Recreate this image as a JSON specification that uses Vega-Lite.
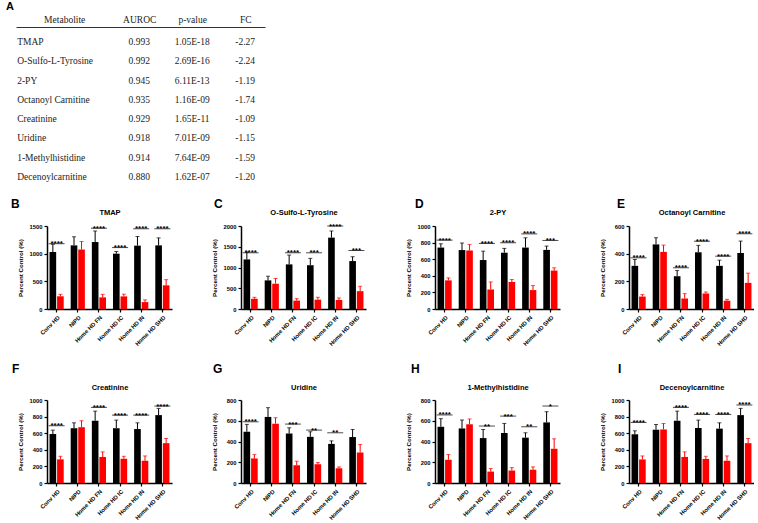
{
  "$schema": "https://vega.github.io/schema/vega-lite/v6.json",
  "padding": {"left": 6, "top": 1, "right": 0, "bottom": 0},
  "background": "white",
  "config": {
    "view": {"stroke": null},
    "font": "Liberation Sans",
    "axis": {"domainColor": "#000", "domainWidth": 1.5, "tickColor": "#000", "tickWidth": 1.2, "tickSize": 3, "labelFont": "Liberation Sans", "labelFontWeight": "bold", "labelFontSize": 5.8, "labelColor": "#000", "titleFont": "Liberation Sans", "titleFontWeight": "bold", "titleFontSize": 6.2, "titleColor": "#000", "grid": false},
    "axisY": {"minExtent": 18, "maxExtent": 18, "titlePadding": 5.5, "labelPadding": 2, "format": "d"},
    "axisTop": {"labels": false, "ticks": false, "domain": false, "titleFontSize": 7.5, "titlePadding": 10, "minExtent": 0, "maxExtent": 0},
    "title": {"font": "Liberation Sans", "fontWeight": "bold", "color": "#000"}
  },
  "datasets": {
    "table": [
      {"Metabolite": "TMAP", "AUROC": "0.993", "pvalue": "1.05E-18", "FC": "-2.27"},
      {"Metabolite": "O-Sulfo-L-Tyrosine", "AUROC": "0.992", "pvalue": "2.69E-16", "FC": "-2.24"},
      {"Metabolite": "2-PY", "AUROC": "0.945", "pvalue": "6.11E-13", "FC": "-1.19"},
      {"Metabolite": "Octanoyl  Carnitine", "AUROC": "0.935", "pvalue": "1.16E-09", "FC": "-1.74"},
      {"Metabolite": "Creatinine", "AUROC": "0.929", "pvalue": "1.65E-11", "FC": "-1.09"},
      {"Metabolite": "Uridine", "AUROC": "0.918", "pvalue": "7.01E-09", "FC": "-1.15"},
      {"Metabolite": "1-Methylhistidine", "AUROC": "0.914", "pvalue": "7.64E-09", "FC": "-1.59"},
      {"Metabolite": "Decenoylcarnitine", "AUROC": "0.880", "pvalue": "1.62E-07", "FC": "-1.20"}
    ],
    "bars": [
      {"m": "TMAP", "g": "Conv HD", "s": "Pre", "v": 1030, "hi": 1170},
      {"m": "TMAP", "g": "Conv HD", "s": "Post", "v": 230, "hi": 265},
      {"m": "TMAP", "g": "NIPD", "s": "Pre", "v": 1150, "hi": 1305},
      {"m": "TMAP", "g": "NIPD", "s": "Post", "v": 1075, "hi": 1220},
      {"m": "TMAP", "g": "Home HD FN", "s": "Pre", "v": 1210, "hi": 1410},
      {"m": "TMAP", "g": "Home HD FN", "s": "Post", "v": 210, "hi": 265},
      {"m": "TMAP", "g": "Home HD IC", "s": "Pre", "v": 1000, "hi": 1040},
      {"m": "TMAP", "g": "Home HD IC", "s": "Post", "v": 228, "hi": 268},
      {"m": "TMAP", "g": "Home HD IN", "s": "Pre", "v": 1145, "hi": 1310},
      {"m": "TMAP", "g": "Home HD IN", "s": "Post", "v": 125, "hi": 165},
      {"m": "TMAP", "g": "Home HD SHD", "s": "Pre", "v": 1150, "hi": 1285},
      {"m": "TMAP", "g": "Home HD SHD", "s": "Post", "v": 428, "hi": 530},
      {"m": "O-Sulfo-L-Tyrosine", "g": "Conv HD", "s": "Pre", "v": 1195, "hi": 1370},
      {"m": "O-Sulfo-L-Tyrosine", "g": "Conv HD", "s": "Post", "v": 245, "hi": 282},
      {"m": "O-Sulfo-L-Tyrosine", "g": "NIPD", "s": "Pre", "v": 690, "hi": 790},
      {"m": "O-Sulfo-L-Tyrosine", "g": "NIPD", "s": "Post", "v": 610, "hi": 735},
      {"m": "O-Sulfo-L-Tyrosine", "g": "Home HD FN", "s": "Pre", "v": 1075, "hi": 1300},
      {"m": "O-Sulfo-L-Tyrosine", "g": "Home HD FN", "s": "Post", "v": 202, "hi": 250},
      {"m": "O-Sulfo-L-Tyrosine", "g": "Home HD IC", "s": "Pre", "v": 1055, "hi": 1220},
      {"m": "O-Sulfo-L-Tyrosine", "g": "Home HD IC", "s": "Post", "v": 225, "hi": 282},
      {"m": "O-Sulfo-L-Tyrosine", "g": "Home HD IN", "s": "Pre", "v": 1720, "hi": 1880},
      {"m": "O-Sulfo-L-Tyrosine", "g": "Home HD IN", "s": "Post", "v": 218, "hi": 266},
      {"m": "O-Sulfo-L-Tyrosine", "g": "Home HD SHD", "s": "Pre", "v": 1155, "hi": 1260},
      {"m": "O-Sulfo-L-Tyrosine", "g": "Home HD SHD", "s": "Post", "v": 430, "hi": 548},
      {"m": "2-PY", "g": "Conv HD", "s": "Pre", "v": 740, "hi": 786},
      {"m": "2-PY", "g": "Conv HD", "s": "Post", "v": 345, "hi": 375},
      {"m": "2-PY", "g": "NIPD", "s": "Pre", "v": 710, "hi": 795},
      {"m": "2-PY", "g": "NIPD", "s": "Post", "v": 705, "hi": 778},
      {"m": "2-PY", "g": "Home HD FN", "s": "Pre", "v": 590, "hi": 697},
      {"m": "2-PY", "g": "Home HD FN", "s": "Post", "v": 235, "hi": 326},
      {"m": "2-PY", "g": "Home HD IC", "s": "Pre", "v": 678, "hi": 730},
      {"m": "2-PY", "g": "Home HD IC", "s": "Post", "v": 325, "hi": 355},
      {"m": "2-PY", "g": "Home HD IN", "s": "Pre", "v": 740, "hi": 858},
      {"m": "2-PY", "g": "Home HD IN", "s": "Post", "v": 228, "hi": 282},
      {"m": "2-PY", "g": "Home HD SHD", "s": "Pre", "v": 712, "hi": 758},
      {"m": "2-PY", "g": "Home HD SHD", "s": "Post", "v": 463, "hi": 496},
      {"m": "Octanoyl Carnitine", "g": "Conv HD", "s": "Pre", "v": 312, "hi": 358},
      {"m": "Octanoyl Carnitine", "g": "Conv HD", "s": "Post", "v": 90, "hi": 104},
      {"m": "Octanoyl Carnitine", "g": "NIPD", "s": "Pre", "v": 467, "hi": 515},
      {"m": "Octanoyl Carnitine", "g": "NIPD", "s": "Post", "v": 413, "hi": 462},
      {"m": "Octanoyl Carnitine", "g": "Home HD FN", "s": "Pre", "v": 237, "hi": 278},
      {"m": "Octanoyl Carnitine", "g": "Home HD FN", "s": "Post", "v": 76, "hi": 111},
      {"m": "Octanoyl Carnitine", "g": "Home HD IC", "s": "Pre", "v": 410, "hi": 460},
      {"m": "Octanoyl Carnitine", "g": "Home HD IC", "s": "Post", "v": 112, "hi": 123},
      {"m": "Octanoyl Carnitine", "g": "Home HD IN", "s": "Pre", "v": 312, "hi": 353},
      {"m": "Octanoyl Carnitine", "g": "Home HD IN", "s": "Post", "v": 60, "hi": 70},
      {"m": "Octanoyl Carnitine", "g": "Home HD SHD", "s": "Pre", "v": 405, "hi": 491},
      {"m": "Octanoyl Carnitine", "g": "Home HD SHD", "s": "Post", "v": 189, "hi": 259},
      {"m": "Creatinine", "g": "Conv HD", "s": "Pre", "v": 590, "hi": 637},
      {"m": "Creatinine", "g": "Conv HD", "s": "Post", "v": 285, "hi": 322},
      {"m": "Creatinine", "g": "NIPD", "s": "Pre", "v": 660, "hi": 725},
      {"m": "Creatinine", "g": "NIPD", "s": "Post", "v": 672, "hi": 750},
      {"m": "Creatinine", "g": "Home HD FN", "s": "Pre", "v": 750, "hi": 866},
      {"m": "Creatinine", "g": "Home HD FN", "s": "Post", "v": 314, "hi": 375},
      {"m": "Creatinine", "g": "Home HD IC", "s": "Pre", "v": 660, "hi": 758},
      {"m": "Creatinine", "g": "Home HD IC", "s": "Post", "v": 292, "hi": 322},
      {"m": "Creatinine", "g": "Home HD IN", "s": "Pre", "v": 650, "hi": 725},
      {"m": "Creatinine", "g": "Home HD IN", "s": "Post", "v": 268, "hi": 326},
      {"m": "Creatinine", "g": "Home HD SHD", "s": "Pre", "v": 818, "hi": 899},
      {"m": "Creatinine", "g": "Home HD SHD", "s": "Post", "v": 480, "hi": 536},
      {"m": "Uridine", "g": "Conv HD", "s": "Pre", "v": 494, "hi": 565},
      {"m": "Uridine", "g": "Conv HD", "s": "Post", "v": 237, "hi": 274},
      {"m": "Uridine", "g": "NIPD", "s": "Pre", "v": 637, "hi": 726},
      {"m": "Uridine", "g": "NIPD", "s": "Post", "v": 572, "hi": 629},
      {"m": "Uridine", "g": "Home HD FN", "s": "Pre", "v": 477, "hi": 532},
      {"m": "Uridine", "g": "Home HD FN", "s": "Post", "v": 171, "hi": 210},
      {"m": "Uridine", "g": "Home HD IC", "s": "Pre", "v": 445, "hi": 494},
      {"m": "Uridine", "g": "Home HD IC", "s": "Post", "v": 181, "hi": 197},
      {"m": "Uridine", "g": "Home HD IN", "s": "Pre", "v": 377, "hi": 406},
      {"m": "Uridine", "g": "Home HD IN", "s": "Post", "v": 142, "hi": 155},
      {"m": "Uridine", "g": "Home HD SHD", "s": "Pre", "v": 443, "hi": 516},
      {"m": "Uridine", "g": "Home HD SHD", "s": "Post", "v": 294, "hi": 371},
      {"m": "1-Methylhistidine", "g": "Conv HD", "s": "Pre", "v": 542, "hi": 620},
      {"m": "1-Methylhistidine", "g": "Conv HD", "s": "Post", "v": 224, "hi": 274},
      {"m": "1-Methylhistidine", "g": "NIPD", "s": "Pre", "v": 526, "hi": 607},
      {"m": "1-Methylhistidine", "g": "NIPD", "s": "Post", "v": 566, "hi": 617},
      {"m": "1-Methylhistidine", "g": "Home HD FN", "s": "Pre", "v": 433, "hi": 516},
      {"m": "1-Methylhistidine", "g": "Home HD FN", "s": "Post", "v": 110, "hi": 139},
      {"m": "1-Methylhistidine", "g": "Home HD IC", "s": "Pre", "v": 482, "hi": 574},
      {"m": "1-Methylhistidine", "g": "Home HD IC", "s": "Post", "v": 120, "hi": 148},
      {"m": "1-Methylhistidine", "g": "Home HD IN", "s": "Pre", "v": 437, "hi": 484},
      {"m": "1-Methylhistidine", "g": "Home HD IN", "s": "Post", "v": 128, "hi": 155},
      {"m": "1-Methylhistidine", "g": "Home HD SHD", "s": "Pre", "v": 584, "hi": 687},
      {"m": "1-Methylhistidine", "g": "Home HD SHD", "s": "Post", "v": 330, "hi": 426},
      {"m": "Decenoylcarnitine", "g": "Conv HD", "s": "Pre", "v": 587, "hi": 629},
      {"m": "Decenoylcarnitine", "g": "Conv HD", "s": "Post", "v": 284, "hi": 326},
      {"m": "Decenoylcarnitine", "g": "NIPD", "s": "Pre", "v": 642, "hi": 705},
      {"m": "Decenoylcarnitine", "g": "NIPD", "s": "Post", "v": 645, "hi": 717},
      {"m": "Decenoylcarnitine", "g": "Home HD FN", "s": "Pre", "v": 750, "hi": 866},
      {"m": "Decenoylcarnitine", "g": "Home HD FN", "s": "Post", "v": 314, "hi": 375},
      {"m": "Decenoylcarnitine", "g": "Home HD IC", "s": "Pre", "v": 663, "hi": 758},
      {"m": "Decenoylcarnitine", "g": "Home HD IC", "s": "Post", "v": 290, "hi": 322},
      {"m": "Decenoylcarnitine", "g": "Home HD IN", "s": "Pre", "v": 655, "hi": 725},
      {"m": "Decenoylcarnitine", "g": "Home HD IN", "s": "Post", "v": 268, "hi": 326},
      {"m": "Decenoylcarnitine", "g": "Home HD SHD", "s": "Pre", "v": 818, "hi": 899},
      {"m": "Decenoylcarnitine", "g": "Home HD SHD", "s": "Post", "v": 480, "hi": 536}
    ],
    "sig": [
      {"m": "TMAP", "g": "Conv HD", "v": 1180, "t": "****"},
      {"m": "TMAP", "g": "Home HD FN", "v": 1460, "t": "****"},
      {"m": "TMAP", "g": "Home HD IC", "v": 1110, "t": "****"},
      {"m": "TMAP", "g": "Home HD IN", "v": 1450, "t": "****"},
      {"m": "TMAP", "g": "Home HD SHD", "v": 1450, "t": "****"},
      {"m": "O-Sulfo-L-Tyrosine", "g": "Conv HD", "v": 1355, "t": "****"},
      {"m": "O-Sulfo-L-Tyrosine", "g": "Home HD FN", "v": 1355, "t": "****"},
      {"m": "O-Sulfo-L-Tyrosine", "g": "Home HD IC", "v": 1355, "t": "***"},
      {"m": "O-Sulfo-L-Tyrosine", "g": "Home HD IN", "v": 2000, "t": "****"},
      {"m": "O-Sulfo-L-Tyrosine", "g": "Home HD SHD", "v": 1410, "t": "***"},
      {"m": "2-PY", "g": "Conv HD", "v": 830, "t": "****"},
      {"m": "2-PY", "g": "Home HD FN", "v": 790, "t": "****"},
      {"m": "2-PY", "g": "Home HD IC", "v": 798, "t": "****"},
      {"m": "2-PY", "g": "Home HD IN", "v": 905, "t": "****"},
      {"m": "2-PY", "g": "Home HD SHD", "v": 826, "t": "***"},
      {"m": "Octanoyl Carnitine", "g": "Conv HD", "v": 370, "t": "****"},
      {"m": "Octanoyl Carnitine", "g": "Home HD FN", "v": 298, "t": "****"},
      {"m": "Octanoyl Carnitine", "g": "Home HD IC", "v": 490, "t": "****"},
      {"m": "Octanoyl Carnitine", "g": "Home HD IN", "v": 382, "t": "****"},
      {"m": "Octanoyl Carnitine", "g": "Home HD SHD", "v": 544, "t": "****"},
      {"m": "Creatinine", "g": "Conv HD", "v": 690, "t": "****"},
      {"m": "Creatinine", "g": "Home HD FN", "v": 911, "t": "****"},
      {"m": "Creatinine", "g": "Home HD IC", "v": 818, "t": "****"},
      {"m": "Creatinine", "g": "Home HD IN", "v": 818, "t": "****"},
      {"m": "Creatinine", "g": "Home HD SHD", "v": 927, "t": "****"},
      {"m": "Uridine", "g": "Conv HD", "v": 590, "t": "****"},
      {"m": "Uridine", "g": "Home HD FN", "v": 568, "t": "***"},
      {"m": "Uridine", "g": "Home HD IC", "v": 510, "t": "**"},
      {"m": "Uridine", "g": "Home HD IN", "v": 484, "t": "**"},
      {"m": "1-Methylhistidine", "g": "Conv HD", "v": 656, "t": "****"},
      {"m": "1-Methylhistidine", "g": "Home HD FN", "v": 549, "t": "**"},
      {"m": "1-Methylhistidine", "g": "Home HD IC", "v": 645, "t": "***"},
      {"m": "1-Methylhistidine", "g": "Home HD IN", "v": 542, "t": "**"},
      {"m": "1-Methylhistidine", "g": "Home HD SHD", "v": 742, "t": "*"},
      {"m": "Decenoylcarnitine", "g": "Conv HD", "v": 730, "t": "****"},
      {"m": "Decenoylcarnitine", "g": "Home HD FN", "v": 911, "t": "****"},
      {"m": "Decenoylcarnitine", "g": "Home HD IC", "v": 826, "t": "****"},
      {"m": "Decenoylcarnitine", "g": "Home HD IN", "v": 826, "t": "****"},
      {"m": "Decenoylcarnitine", "g": "Home HD SHD", "v": 940, "t": "****"}
    ]
  },
  "spacing": 16,
  "vconcat": [
    {
      "title": {"text": "A", "anchor": "start", "frame": "group", "fontSize": 11, "dx": -41, "offset": 2},
      "width": 218, "height": 150,
      "data": {"name": "table"},
      "encoding": {
        "y": {"field": "Metabolite", "type": "nominal", "scale": {"type": "point", "padding": 0.777, "range": [0, 165], "domain": ["TMAP", "O-Sulfo-L-Tyrosine", "2-PY", "Octanoyl  Carnitine", "Creatinine", "Uridine", "1-Methylhistidine", "Decenoylcarnitine"]}, "axis": null}
      },
      "layer": [
        {"mark": {"type": "text", "align": "left", "dx": -69, "font": "Liberation Serif", "fontSize": 9.5, "color": "#222"},
         "encoding": {"x": {"datum": "Metabolite", "type": "nominal", "scale": {"type": "point", "domain": ["Metabolite", "AUROC", "p-value", "FC"], "range": [-31, 218], "padding": 0.849, "align": 0.78},
           "axis": {"orient": "top", "title": null, "labels": true, "domain": true, "ticks": false, "minExtent": 10, "maxExtent": 40, "labelAngle": 0, "labelFont": "Liberation Serif", "labelFontSize": 9.5, "labelFontWeight": "normal", "labelColor": "#222", "domainColor": "#333", "domainWidth": 1.2, "labelPadding": 3,
             "labelOffset": {"condition": {"test": "datum.value === 'Metabolite'", "value": -22}, "value": 0}}},
           "text": {"field": "Metabolite"}}},
        {"mark": {"type": "text", "align": "center", "font": "Liberation Serif", "fontSize": 9.5, "color": "#222"},
         "encoding": {"x": {"datum": "AUROC", "type": "nominal"}, "text": {"field": "AUROC"}}},
        {"mark": {"type": "text", "align": "center", "font": "Liberation Serif", "fontSize": 9.5, "color": "#222"},
         "encoding": {"x": {"datum": "p-value", "type": "nominal"}, "text": {"field": "pvalue"}}},
        {"mark": {"type": "text", "align": "center", "font": "Liberation Serif", "fontSize": 9.5, "color": "#222"},
         "encoding": {"x": {"datum": "FC", "type": "nominal"}, "text": {"field": "FC"}}}
      ]
    },
    {
      "bounds": "flush",
      "spacing": 69,
      "hconcat": [
        {"title": {"text": "B", "anchor": "start", "frame": "group", "fontSize": 12, "dx": -36, "offset": -3},
         "width": 125, "height": 83, "data": {"name": "bars"}, "resolve": {"axis": {"x": "independent"}},
         "encoding": {"x": {"field": "g", "type": "nominal", "scale": {"domain": ["Conv HD", "NIPD", "Home HD FN", "Home HD IC", "Home HD IN", "Home HD SHD"], "paddingInner": 0.33, "paddingOuter": 0.12}, "axis": null},
           "y": {"field": "v", "type": "quantitative", "scale": {"domain": [0, 1500], "nice": false}, "axis": {"values": [0, 500, 1000, 1500], "title": "Percent Control (%)"}}},
         "layer": [
           {"transform": [{"filter": "datum.m === 'TMAP'"}], "mark": {"type": "bar"}, "encoding": {"x": {"field": "g", "type": "nominal", "scale": {"domain": ["Conv HD", "NIPD", "Home HD FN", "Home HD IC", "Home HD IN", "Home HD SHD"], "paddingInner": 0.33, "paddingOuter": 0.12}, "axis": {"orient": "bottom", "title": null, "labelAngle": -45}}, "xOffset": {"field": "s", "type": "nominal", "scale": {"domain": ["Pre", "Post"], "paddingInner": 0.12}}, "color": {"field": "s", "type": "nominal", "scale": {"domain": ["Pre", "Post"], "range": ["#000000", "#ff0000"]}, "legend": null}}},
           {"transform": [{"filter": "datum.m === 'TMAP'"}], "mark": {"type": "rule", "strokeWidth": 1}, "encoding": {"x": {"field": "g", "type": "nominal", "scale": {"domain": ["Conv HD", "NIPD", "Home HD FN", "Home HD IC", "Home HD IN", "Home HD SHD"], "paddingInner": 0.33, "paddingOuter": 0.12}, "axis": {"orient": "top", "title": "TMAP"}}, "xOffset": {"field": "s", "type": "nominal", "scale": {"domain": ["Pre", "Post"], "paddingInner": 0.12}}, "color": {"field": "s", "type": "nominal", "legend": null}, "y2": {"field": "hi"}}},
           {"transform": [{"filter": "datum.m === 'TMAP'"}], "mark": {"type": "tick", "thickness": 1, "size": 4}, "encoding": {"xOffset": {"field": "s", "type": "nominal", "scale": {"domain": ["Pre", "Post"], "paddingInner": 0.12}}, "color": {"field": "s", "type": "nominal", "legend": null}, "y": {"field": "hi", "type": "quantitative", "scale": {"domain": [0, 1500], "nice": false}}}},
           {"data": {"name": "sig"}, "transform": [{"filter": "datum.m === 'TMAP'"}], "mark": {"type": "tick", "thickness": 1, "size": 16, "color": "#000"}},
           {"data": {"name": "sig"}, "transform": [{"filter": "datum.m === 'TMAP'"}], "mark": {"type": "text", "fontSize": 8, "fontWeight": "bold", "baseline": "alphabetic", "dy": 2.5, "color": "#000"}, "encoding": {"text": {"field": "t"}}}
         ]},
        {"title": {"text": "C", "anchor": "start", "frame": "group", "fontSize": 12, "dx": -27, "offset": -3},
         "width": 125, "height": 83, "data": {"name": "bars"}, "resolve": {"axis": {"x": "independent"}},
         "encoding": {"x": {"field": "g", "type": "nominal", "scale": {"domain": ["Conv HD", "NIPD", "Home HD FN", "Home HD IC", "Home HD IN", "Home HD SHD"], "paddingInner": 0.33, "paddingOuter": 0.12}, "axis": null},
           "y": {"field": "v", "type": "quantitative", "scale": {"domain": [0, 2000], "nice": false}, "axis": {"values": [0, 500, 1000, 1500, 2000], "title": "Percent Control (%)"}}},
         "layer": [
           {"transform": [{"filter": "datum.m === 'O-Sulfo-L-Tyrosine'"}], "mark": {"type": "bar"}, "encoding": {"x": {"field": "g", "type": "nominal", "scale": {"domain": ["Conv HD", "NIPD", "Home HD FN", "Home HD IC", "Home HD IN", "Home HD SHD"], "paddingInner": 0.33, "paddingOuter": 0.12}, "axis": {"orient": "bottom", "title": null, "labelAngle": -45}}, "xOffset": {"field": "s", "type": "nominal", "scale": {"domain": ["Pre", "Post"], "paddingInner": 0.12}}, "color": {"field": "s", "type": "nominal", "scale": {"domain": ["Pre", "Post"], "range": ["#000000", "#ff0000"]}, "legend": null}}},
           {"transform": [{"filter": "datum.m === 'O-Sulfo-L-Tyrosine'"}], "mark": {"type": "rule", "strokeWidth": 1}, "encoding": {"x": {"field": "g", "type": "nominal", "scale": {"domain": ["Conv HD", "NIPD", "Home HD FN", "Home HD IC", "Home HD IN", "Home HD SHD"], "paddingInner": 0.33, "paddingOuter": 0.12}, "axis": {"orient": "top", "title": "O-Sulfo-L-Tyrosine"}}, "xOffset": {"field": "s", "type": "nominal", "scale": {"domain": ["Pre", "Post"], "paddingInner": 0.12}}, "color": {"field": "s", "type": "nominal", "legend": null}, "y2": {"field": "hi"}}},
           {"transform": [{"filter": "datum.m === 'O-Sulfo-L-Tyrosine'"}], "mark": {"type": "tick", "thickness": 1, "size": 4}, "encoding": {"xOffset": {"field": "s", "type": "nominal", "scale": {"domain": ["Pre", "Post"], "paddingInner": 0.12}}, "color": {"field": "s", "type": "nominal", "legend": null}, "y": {"field": "hi", "type": "quantitative", "scale": {"domain": [0, 2000], "nice": false}}}},
           {"data": {"name": "sig"}, "transform": [{"filter": "datum.m === 'O-Sulfo-L-Tyrosine'"}], "mark": {"type": "tick", "thickness": 1, "size": 16, "color": "#000"}},
           {"data": {"name": "sig"}, "transform": [{"filter": "datum.m === 'O-Sulfo-L-Tyrosine'"}], "mark": {"type": "text", "fontSize": 8, "fontWeight": "bold", "baseline": "alphabetic", "dy": 2.5, "color": "#000"}, "encoding": {"text": {"field": "t"}}}
         ]},
        {"title": {"text": "D", "anchor": "start", "frame": "group", "fontSize": 12, "dx": -20, "offset": -3},
         "width": 125, "height": 83, "data": {"name": "bars"}, "resolve": {"axis": {"x": "independent"}},
         "encoding": {"x": {"field": "g", "type": "nominal", "scale": {"domain": ["Conv HD", "NIPD", "Home HD FN", "Home HD IC", "Home HD IN", "Home HD SHD"], "paddingInner": 0.33, "paddingOuter": 0.12}, "axis": null},
           "y": {"field": "v", "type": "quantitative", "scale": {"domain": [0, 1000], "nice": false}, "axis": {"values": [0, 200, 400, 600, 800, 1000], "title": "Percent Control (%)"}}},
         "layer": [
           {"transform": [{"filter": "datum.m === '2-PY'"}], "mark": {"type": "bar"}, "encoding": {"x": {"field": "g", "type": "nominal", "scale": {"domain": ["Conv HD", "NIPD", "Home HD FN", "Home HD IC", "Home HD IN", "Home HD SHD"], "paddingInner": 0.33, "paddingOuter": 0.12}, "axis": {"orient": "bottom", "title": null, "labelAngle": -45}}, "xOffset": {"field": "s", "type": "nominal", "scale": {"domain": ["Pre", "Post"], "paddingInner": 0.12}}, "color": {"field": "s", "type": "nominal", "scale": {"domain": ["Pre", "Post"], "range": ["#000000", "#ff0000"]}, "legend": null}}},
           {"transform": [{"filter": "datum.m === '2-PY'"}], "mark": {"type": "rule", "strokeWidth": 1}, "encoding": {"x": {"field": "g", "type": "nominal", "scale": {"domain": ["Conv HD", "NIPD", "Home HD FN", "Home HD IC", "Home HD IN", "Home HD SHD"], "paddingInner": 0.33, "paddingOuter": 0.12}, "axis": {"orient": "top", "title": "2-PY"}}, "xOffset": {"field": "s", "type": "nominal", "scale": {"domain": ["Pre", "Post"], "paddingInner": 0.12}}, "color": {"field": "s", "type": "nominal", "legend": null}, "y2": {"field": "hi"}}},
           {"transform": [{"filter": "datum.m === '2-PY'"}], "mark": {"type": "tick", "thickness": 1, "size": 4}, "encoding": {"xOffset": {"field": "s", "type": "nominal", "scale": {"domain": ["Pre", "Post"], "paddingInner": 0.12}}, "color": {"field": "s", "type": "nominal", "legend": null}, "y": {"field": "hi", "type": "quantitative", "scale": {"domain": [0, 1000], "nice": false}}}},
           {"data": {"name": "sig"}, "transform": [{"filter": "datum.m === '2-PY'"}], "mark": {"type": "tick", "thickness": 1, "size": 16, "color": "#000"}},
           {"data": {"name": "sig"}, "transform": [{"filter": "datum.m === '2-PY'"}], "mark": {"type": "text", "fontSize": 8, "fontWeight": "bold", "baseline": "alphabetic", "dy": 2.5, "color": "#000"}, "encoding": {"text": {"field": "t"}}}
         ]},
        {"title": {"text": "E", "anchor": "start", "frame": "group", "fontSize": 12, "dx": -12, "offset": -3},
         "width": 125, "height": 83, "data": {"name": "bars"}, "resolve": {"axis": {"x": "independent"}},
         "encoding": {"x": {"field": "g", "type": "nominal", "scale": {"domain": ["Conv HD", "NIPD", "Home HD FN", "Home HD IC", "Home HD IN", "Home HD SHD"], "paddingInner": 0.33, "paddingOuter": 0.12}, "axis": null},
           "y": {"field": "v", "type": "quantitative", "scale": {"domain": [0, 600], "nice": false}, "axis": {"values": [0, 200, 400, 600], "title": "Percent Control (%)"}}},
         "layer": [
           {"transform": [{"filter": "datum.m === 'Octanoyl Carnitine'"}], "mark": {"type": "bar"}, "encoding": {"x": {"field": "g", "type": "nominal", "scale": {"domain": ["Conv HD", "NIPD", "Home HD FN", "Home HD IC", "Home HD IN", "Home HD SHD"], "paddingInner": 0.33, "paddingOuter": 0.12}, "axis": {"orient": "bottom", "title": null, "labelAngle": -45}}, "xOffset": {"field": "s", "type": "nominal", "scale": {"domain": ["Pre", "Post"], "paddingInner": 0.12}}, "color": {"field": "s", "type": "nominal", "scale": {"domain": ["Pre", "Post"], "range": ["#000000", "#ff0000"]}, "legend": null}}},
           {"transform": [{"filter": "datum.m === 'Octanoyl Carnitine'"}], "mark": {"type": "rule", "strokeWidth": 1}, "encoding": {"x": {"field": "g", "type": "nominal", "scale": {"domain": ["Conv HD", "NIPD", "Home HD FN", "Home HD IC", "Home HD IN", "Home HD SHD"], "paddingInner": 0.33, "paddingOuter": 0.12}, "axis": {"orient": "top", "title": "Octanoyl Carnitine"}}, "xOffset": {"field": "s", "type": "nominal", "scale": {"domain": ["Pre", "Post"], "paddingInner": 0.12}}, "color": {"field": "s", "type": "nominal", "legend": null}, "y2": {"field": "hi"}}},
           {"transform": [{"filter": "datum.m === 'Octanoyl Carnitine'"}], "mark": {"type": "tick", "thickness": 1, "size": 4}, "encoding": {"xOffset": {"field": "s", "type": "nominal", "scale": {"domain": ["Pre", "Post"], "paddingInner": 0.12}}, "color": {"field": "s", "type": "nominal", "legend": null}, "y": {"field": "hi", "type": "quantitative", "scale": {"domain": [0, 600], "nice": false}}}},
           {"data": {"name": "sig"}, "transform": [{"filter": "datum.m === 'Octanoyl Carnitine'"}], "mark": {"type": "tick", "thickness": 1, "size": 16, "color": "#000"}},
           {"data": {"name": "sig"}, "transform": [{"filter": "datum.m === 'Octanoyl Carnitine'"}], "mark": {"type": "text", "fontSize": 8, "fontWeight": "bold", "baseline": "alphabetic", "dy": 2.5, "color": "#000"}, "encoding": {"text": {"field": "t"}}}
         ]}
      ]
    },
    {
      "bounds": "flush",
      "spacing": 69,
      "hconcat": [
        {"title": {"text": "F", "anchor": "start", "frame": "group", "fontSize": 12, "dx": -35, "offset": 7},
         "width": 125, "height": 83, "data": {"name": "bars"}, "resolve": {"axis": {"x": "independent"}},
         "encoding": {"x": {"field": "g", "type": "nominal", "scale": {"domain": ["Conv HD", "NIPD", "Home HD FN", "Home HD IC", "Home HD IN", "Home HD SHD"], "paddingInner": 0.33, "paddingOuter": 0.12}, "axis": null},
           "y": {"field": "v", "type": "quantitative", "scale": {"domain": [0, 1000], "nice": false}, "axis": {"values": [0, 200, 400, 600, 800, 1000], "title": "Percent Control (%)"}}},
         "layer": [
           {"transform": [{"filter": "datum.m === 'Creatinine'"}], "mark": {"type": "bar"}, "encoding": {"x": {"field": "g", "type": "nominal", "scale": {"domain": ["Conv HD", "NIPD", "Home HD FN", "Home HD IC", "Home HD IN", "Home HD SHD"], "paddingInner": 0.33, "paddingOuter": 0.12}, "axis": {"orient": "bottom", "title": null, "labelAngle": -45}}, "xOffset": {"field": "s", "type": "nominal", "scale": {"domain": ["Pre", "Post"], "paddingInner": 0.12}}, "color": {"field": "s", "type": "nominal", "scale": {"domain": ["Pre", "Post"], "range": ["#000000", "#ff0000"]}, "legend": null}}},
           {"transform": [{"filter": "datum.m === 'Creatinine'"}], "mark": {"type": "rule", "strokeWidth": 1}, "encoding": {"x": {"field": "g", "type": "nominal", "scale": {"domain": ["Conv HD", "NIPD", "Home HD FN", "Home HD IC", "Home HD IN", "Home HD SHD"], "paddingInner": 0.33, "paddingOuter": 0.12}, "axis": {"orient": "top", "title": "Creatinine", "titlePadding": 9}}, "xOffset": {"field": "s", "type": "nominal", "scale": {"domain": ["Pre", "Post"], "paddingInner": 0.12}}, "color": {"field": "s", "type": "nominal", "legend": null}, "y2": {"field": "hi"}}},
           {"transform": [{"filter": "datum.m === 'Creatinine'"}], "mark": {"type": "tick", "thickness": 1, "size": 4}, "encoding": {"xOffset": {"field": "s", "type": "nominal", "scale": {"domain": ["Pre", "Post"], "paddingInner": 0.12}}, "color": {"field": "s", "type": "nominal", "legend": null}, "y": {"field": "hi", "type": "quantitative", "scale": {"domain": [0, 1000], "nice": false}}}},
           {"data": {"name": "sig"}, "transform": [{"filter": "datum.m === 'Creatinine'"}], "mark": {"type": "tick", "thickness": 1, "size": 16, "color": "#000"}},
           {"data": {"name": "sig"}, "transform": [{"filter": "datum.m === 'Creatinine'"}], "mark": {"type": "text", "fontSize": 8, "fontWeight": "bold", "baseline": "alphabetic", "dy": 2.5, "color": "#000"}, "encoding": {"text": {"field": "t"}}}
         ]},
        {"title": {"text": "G", "anchor": "start", "frame": "group", "fontSize": 12, "dx": -28, "offset": 7},
         "width": 125, "height": 83, "data": {"name": "bars"}, "resolve": {"axis": {"x": "independent"}},
         "encoding": {"x": {"field": "g", "type": "nominal", "scale": {"domain": ["Conv HD", "NIPD", "Home HD FN", "Home HD IC", "Home HD IN", "Home HD SHD"], "paddingInner": 0.33, "paddingOuter": 0.12}, "axis": null},
           "y": {"field": "v", "type": "quantitative", "scale": {"domain": [0, 800], "nice": false}, "axis": {"values": [0, 200, 400, 600, 800], "title": "Percent Control (%)"}}},
         "layer": [
           {"transform": [{"filter": "datum.m === 'Uridine'"}], "mark": {"type": "bar"}, "encoding": {"x": {"field": "g", "type": "nominal", "scale": {"domain": ["Conv HD", "NIPD", "Home HD FN", "Home HD IC", "Home HD IN", "Home HD SHD"], "paddingInner": 0.33, "paddingOuter": 0.12}, "axis": {"orient": "bottom", "title": null, "labelAngle": -45}}, "xOffset": {"field": "s", "type": "nominal", "scale": {"domain": ["Pre", "Post"], "paddingInner": 0.12}}, "color": {"field": "s", "type": "nominal", "scale": {"domain": ["Pre", "Post"], "range": ["#000000", "#ff0000"]}, "legend": null}}},
           {"transform": [{"filter": "datum.m === 'Uridine'"}], "mark": {"type": "rule", "strokeWidth": 1}, "encoding": {"x": {"field": "g", "type": "nominal", "scale": {"domain": ["Conv HD", "NIPD", "Home HD FN", "Home HD IC", "Home HD IN", "Home HD SHD"], "paddingInner": 0.33, "paddingOuter": 0.12}, "axis": {"orient": "top", "title": "Uridine", "titlePadding": 9}}, "xOffset": {"field": "s", "type": "nominal", "scale": {"domain": ["Pre", "Post"], "paddingInner": 0.12}}, "color": {"field": "s", "type": "nominal", "legend": null}, "y2": {"field": "hi"}}},
           {"transform": [{"filter": "datum.m === 'Uridine'"}], "mark": {"type": "tick", "thickness": 1, "size": 4}, "encoding": {"xOffset": {"field": "s", "type": "nominal", "scale": {"domain": ["Pre", "Post"], "paddingInner": 0.12}}, "color": {"field": "s", "type": "nominal", "legend": null}, "y": {"field": "hi", "type": "quantitative", "scale": {"domain": [0, 800], "nice": false}}}},
           {"data": {"name": "sig"}, "transform": [{"filter": "datum.m === 'Uridine'"}], "mark": {"type": "tick", "thickness": 1, "size": 16, "color": "#000"}},
           {"data": {"name": "sig"}, "transform": [{"filter": "datum.m === 'Uridine'"}], "mark": {"type": "text", "fontSize": 8, "fontWeight": "bold", "baseline": "alphabetic", "dy": 2.5, "color": "#000"}, "encoding": {"text": {"field": "t"}}}
         ]},
        {"title": {"text": "H", "anchor": "start", "frame": "group", "fontSize": 12, "dx": -24, "offset": 7},
         "width": 125, "height": 83, "data": {"name": "bars"}, "resolve": {"axis": {"x": "independent"}},
         "encoding": {"x": {"field": "g", "type": "nominal", "scale": {"domain": ["Conv HD", "NIPD", "Home HD FN", "Home HD IC", "Home HD IN", "Home HD SHD"], "paddingInner": 0.33, "paddingOuter": 0.12}, "axis": null},
           "y": {"field": "v", "type": "quantitative", "scale": {"domain": [0, 800], "nice": false}, "axis": {"values": [0, 200, 400, 600, 800], "title": "Percent Control (%)"}}},
         "layer": [
           {"transform": [{"filter": "datum.m === '1-Methylhistidine'"}], "mark": {"type": "bar"}, "encoding": {"x": {"field": "g", "type": "nominal", "scale": {"domain": ["Conv HD", "NIPD", "Home HD FN", "Home HD IC", "Home HD IN", "Home HD SHD"], "paddingInner": 0.33, "paddingOuter": 0.12}, "axis": {"orient": "bottom", "title": null, "labelAngle": -45}}, "xOffset": {"field": "s", "type": "nominal", "scale": {"domain": ["Pre", "Post"], "paddingInner": 0.12}}, "color": {"field": "s", "type": "nominal", "scale": {"domain": ["Pre", "Post"], "range": ["#000000", "#ff0000"]}, "legend": null}}},
           {"transform": [{"filter": "datum.m === '1-Methylhistidine'"}], "mark": {"type": "rule", "strokeWidth": 1}, "encoding": {"x": {"field": "g", "type": "nominal", "scale": {"domain": ["Conv HD", "NIPD", "Home HD FN", "Home HD IC", "Home HD IN", "Home HD SHD"], "paddingInner": 0.33, "paddingOuter": 0.12}, "axis": {"orient": "top", "title": "1-Methylhistidine", "titlePadding": 9}}, "xOffset": {"field": "s", "type": "nominal", "scale": {"domain": ["Pre", "Post"], "paddingInner": 0.12}}, "color": {"field": "s", "type": "nominal", "legend": null}, "y2": {"field": "hi"}}},
           {"transform": [{"filter": "datum.m === '1-Methylhistidine'"}], "mark": {"type": "tick", "thickness": 1, "size": 4}, "encoding": {"xOffset": {"field": "s", "type": "nominal", "scale": {"domain": ["Pre", "Post"], "paddingInner": 0.12}}, "color": {"field": "s", "type": "nominal", "legend": null}, "y": {"field": "hi", "type": "quantitative", "scale": {"domain": [0, 800], "nice": false}}}},
           {"data": {"name": "sig"}, "transform": [{"filter": "datum.m === '1-Methylhistidine'"}], "mark": {"type": "tick", "thickness": 1, "size": 16, "color": "#000"}},
           {"data": {"name": "sig"}, "transform": [{"filter": "datum.m === '1-Methylhistidine'"}], "mark": {"type": "text", "fontSize": 8, "fontWeight": "bold", "baseline": "alphabetic", "dy": 2.5, "color": "#000"}, "encoding": {"text": {"field": "t"}}}
         ]},
        {"title": {"text": "I", "anchor": "start", "frame": "group", "fontSize": 12, "dx": -11, "offset": 7},
         "width": 125, "height": 83, "data": {"name": "bars"}, "resolve": {"axis": {"x": "independent"}},
         "encoding": {"x": {"field": "g", "type": "nominal", "scale": {"domain": ["Conv HD", "NIPD", "Home HD FN", "Home HD IC", "Home HD IN", "Home HD SHD"], "paddingInner": 0.33, "paddingOuter": 0.12}, "axis": null},
           "y": {"field": "v", "type": "quantitative", "scale": {"domain": [0, 1000], "nice": false}, "axis": {"values": [0, 200, 400, 600, 800, 1000], "title": "Percent Control (%)"}}},
         "layer": [
           {"transform": [{"filter": "datum.m === 'Decenoylcarnitine'"}], "mark": {"type": "bar"}, "encoding": {"x": {"field": "g", "type": "nominal", "scale": {"domain": ["Conv HD", "NIPD", "Home HD FN", "Home HD IC", "Home HD IN", "Home HD SHD"], "paddingInner": 0.33, "paddingOuter": 0.12}, "axis": {"orient": "bottom", "title": null, "labelAngle": -45}}, "xOffset": {"field": "s", "type": "nominal", "scale": {"domain": ["Pre", "Post"], "paddingInner": 0.12}}, "color": {"field": "s", "type": "nominal", "scale": {"domain": ["Pre", "Post"], "range": ["#000000", "#ff0000"]}, "legend": null}}},
           {"transform": [{"filter": "datum.m === 'Decenoylcarnitine'"}], "mark": {"type": "rule", "strokeWidth": 1}, "encoding": {"x": {"field": "g", "type": "nominal", "scale": {"domain": ["Conv HD", "NIPD", "Home HD FN", "Home HD IC", "Home HD IN", "Home HD SHD"], "paddingInner": 0.33, "paddingOuter": 0.12}, "axis": {"orient": "top", "title": "Decenoylcarnitine", "titlePadding": 9}}, "xOffset": {"field": "s", "type": "nominal", "scale": {"domain": ["Pre", "Post"], "paddingInner": 0.12}}, "color": {"field": "s", "type": "nominal", "legend": null}, "y2": {"field": "hi"}}},
           {"transform": [{"filter": "datum.m === 'Decenoylcarnitine'"}], "mark": {"type": "tick", "thickness": 1, "size": 4}, "encoding": {"xOffset": {"field": "s", "type": "nominal", "scale": {"domain": ["Pre", "Post"], "paddingInner": 0.12}}, "color": {"field": "s", "type": "nominal", "legend": null}, "y": {"field": "hi", "type": "quantitative", "scale": {"domain": [0, 1000], "nice": false}}}},
           {"data": {"name": "sig"}, "transform": [{"filter": "datum.m === 'Decenoylcarnitine'"}], "mark": {"type": "tick", "thickness": 1, "size": 16, "color": "#000"}},
           {"data": {"name": "sig"}, "transform": [{"filter": "datum.m === 'Decenoylcarnitine'"}], "mark": {"type": "text", "fontSize": 8, "fontWeight": "bold", "baseline": "alphabetic", "dy": 2.5, "color": "#000"}, "encoding": {"text": {"field": "t"}}}
         ]}
      ]
    }
  ]
}
